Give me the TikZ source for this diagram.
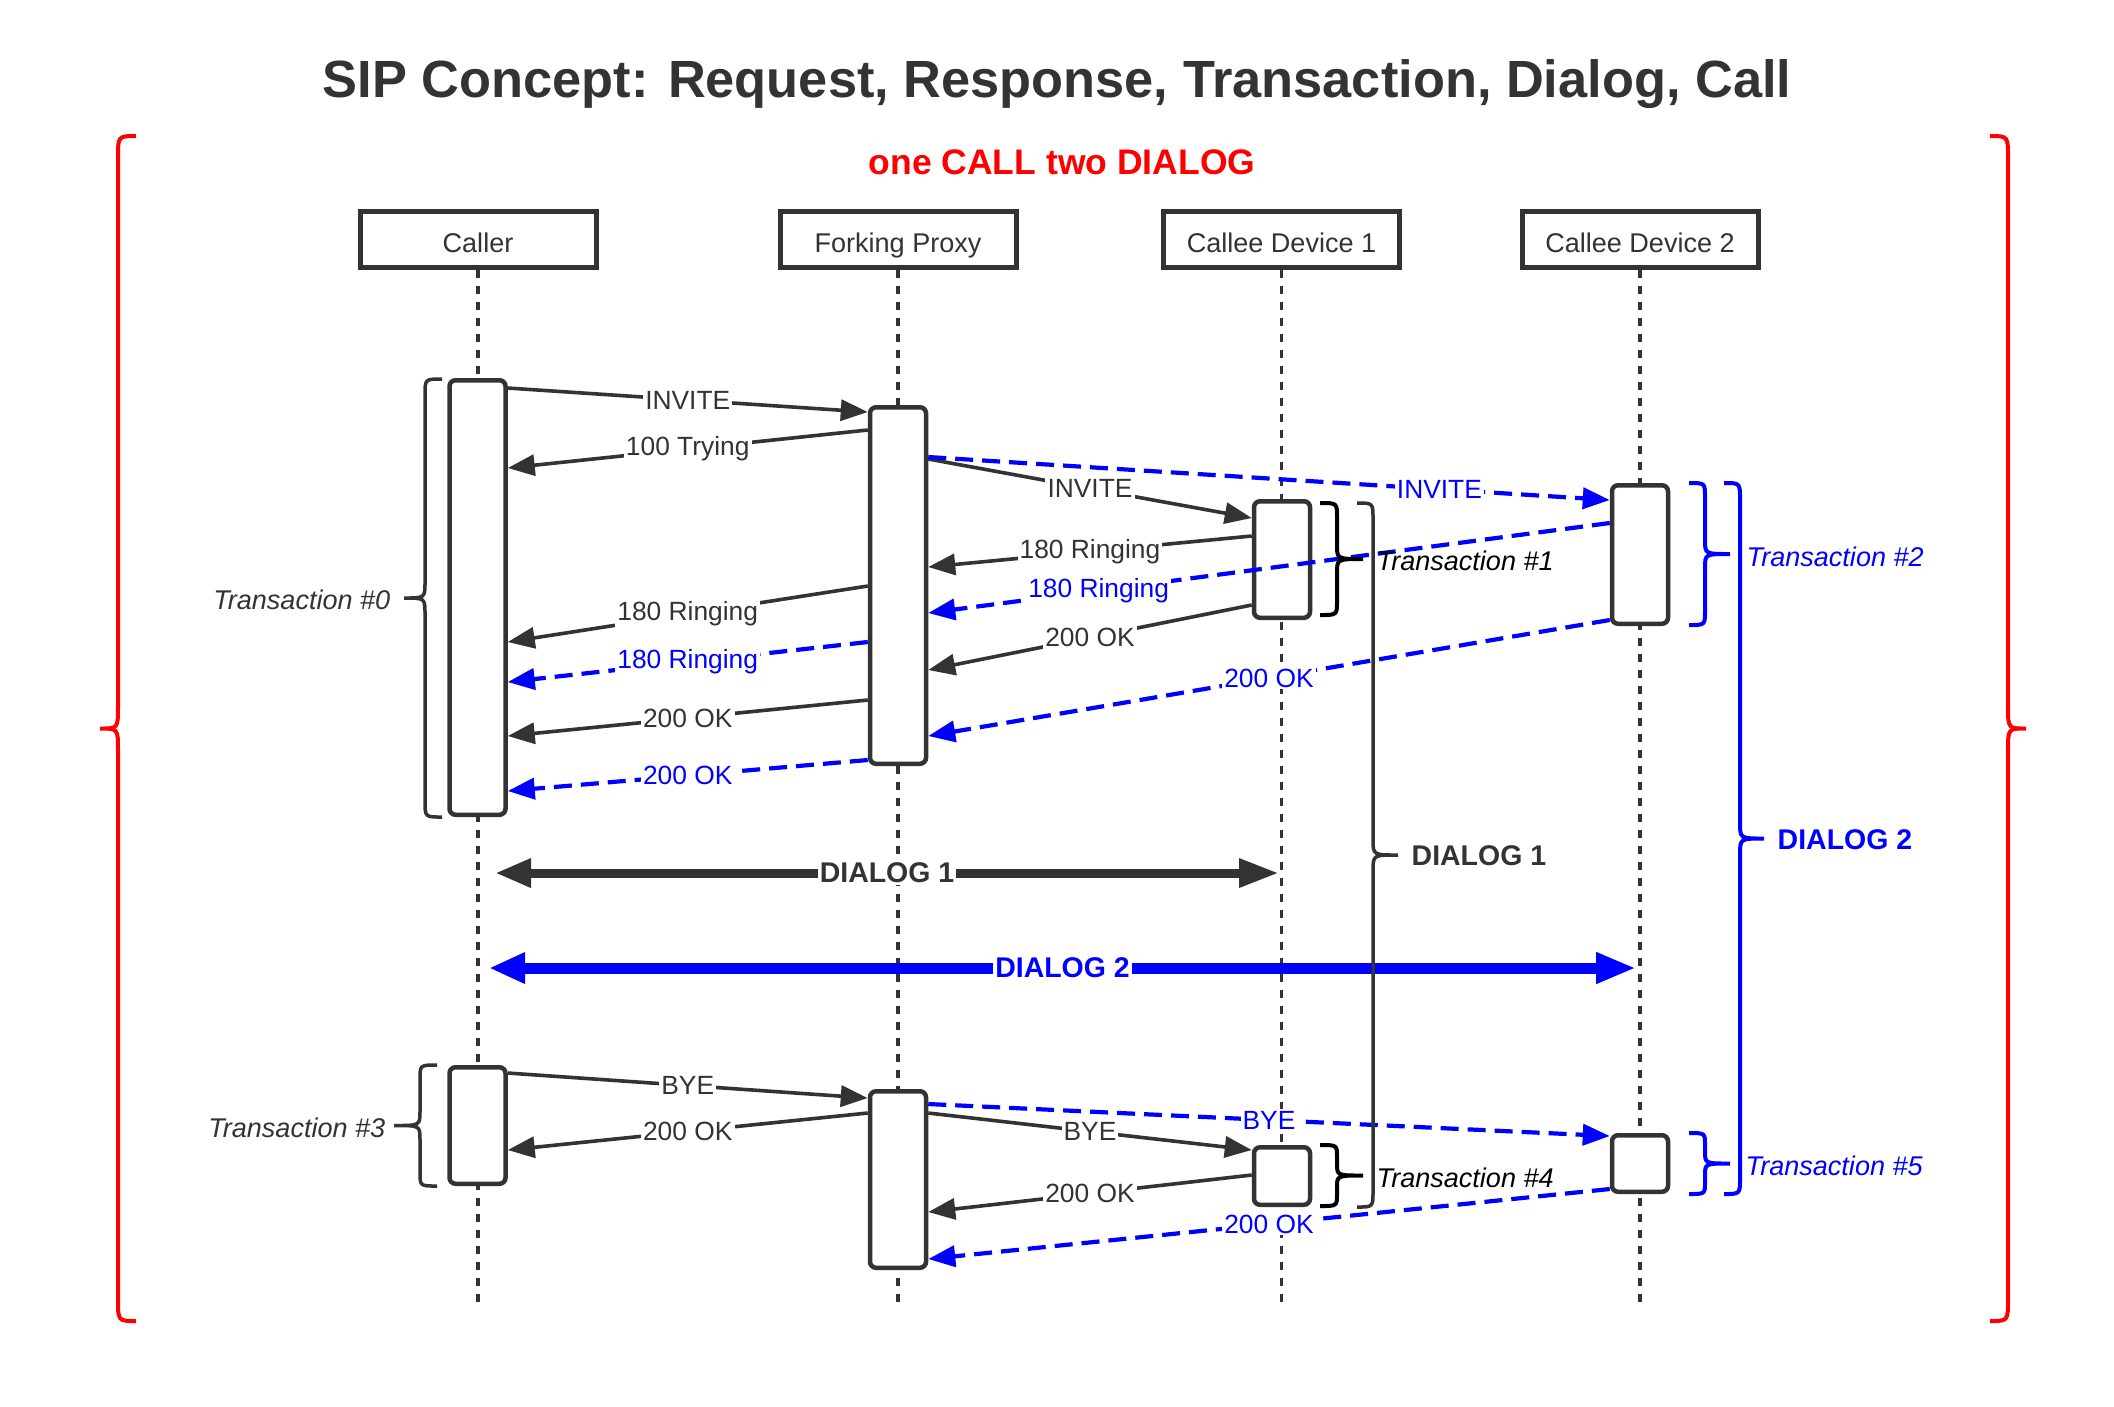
\documentclass[tikz,border=0pt]{standalone}
\usepackage{fontspec}
\setmainfont{Liberation Sans}
\usetikzlibrary{arrows.meta}
\definecolor{ink}{HTML}{333333}
\definecolor{sipblue}{HTML}{0000FF}
\definecolor{sipred}{HTML}{FF0000}
% curly brace: style, x of hooks, top, bottom, line offset, tip offset, radius
\newcommand{\vbrace}[7][]{%
  \draw[#1] (#2,#3) .. controls ({#2+#5},#3) .. ({#2+#5},{#3+#7})
    -- ({#2+#5},{(#3+#4)/2-#7}) .. controls ({#2+#5},{(#3+#4)/2}) .. ({#2+#5+#6},{(#3+#4)/2})
    .. controls ({#2+#5},{(#3+#4)/2}) .. ({#2+#5},{(#3+#4)/2+#7})
    -- ({#2+#5},{#4-#7}) .. controls ({#2+#5},#4) .. (#2,#4);}
\tikzset{
  actor/.style={draw=ink, line width=0.5mm, fill=white, minimum width=23.6mm,
    minimum height=5.6mm, text=ink, text height=2.6mm, text depth=0pt,
    font=\fontsize{7.7}{9}\selectfont},
  lifeline/.style={ink, line width=0.35mm, dash pattern=on 0.8mm off 0.8mm},
  act/.style={draw=ink, line width=0.45mm, fill=white, rounded corners=0.6mm,
    minimum width=5.6mm, inner sep=0pt},
  msg/.style={ink, line width=0.36mm, -{Triangle[length=2.7mm,width=2.1mm]}},
  fork/.style={sipblue, line width=0.42mm, dash pattern=on 1.8mm off 0.9mm,
    -{Triangle[length=2.7mm,width=2.1mm]}},
  lbl/.style={fill=white, inner sep=0.6pt, text=ink, font=\fontsize{7.5}{9}\selectfont},
  blbl/.style={lbl, text=sipblue},
  brc/.style={ink, line width=0.35mm},
  tlbl/.style={inner sep=0pt, text=ink, font=\fontsize{7.7}{9}\selectfont\itshape},
  dlbl/.style={fill=white, inner sep=0.6pt, text=ink, font=\fontsize{8.1}{10}\selectfont\bfseries},
  dlg1/.style={ink, line width=0.9mm,
    {Triangle[length=3.6mm,width=2.7mm]}-{Triangle[length=4mm,width=2.7mm]}},
  dlg2/.style={sipblue, line width=1.1mm,
    {Triangle[length=3.6mm,width=2.9mm]}-{Triangle[length=4mm,width=2.9mm]}}
}
\begin{document}
\begin{tikzpicture}[x=0.1mm,y=-0.1mm]
  \useasboundingbox (0,0) rectangle (2114,1406);
  \node[text=ink, font=\fontsize{14.9}{17}\selectfont\bfseries] (title) at (1057,84)
    {SIP Concept: Request, Response, Transaction, Dialog, Call};
  \node[text=sipred, font=\fontsize{10.1}{12}\selectfont\bfseries] (call) at (1062,162)
    {one CALL two DIALOG};

  % participants
  \node[actor] (caller) at (478,239.5) {Caller};
  \node[actor] (proxy) at (898,239.5) {Forking Proxy};
  \node[actor] (dev1) at (1281.5,239.5) {Callee Device 1};
  \node[actor] (dev2) at (1640,239.5) {Callee Device 2};
  \coordinate (callerEnd) at (478,1308);
  \coordinate (proxyEnd) at (898,1308);
  \coordinate (dev1End) at (1281.5,1308);
  \coordinate (dev2End) at (1640,1308);
  \draw[lifeline] (caller.south) -- (callerEnd);
  \draw[lifeline] (proxy.south) -- (proxyEnd);
  \draw[lifeline] (dev1.south) -- (dev1End);
  \draw[lifeline] (dev2.south) -- (dev2End);

  % activations
  \node[act, minimum height=43.45mm] (callerA) at (477.5,597.5) {};
  \node[act, minimum height=35.65mm] (proxyA) at (898,585.5) {};
  \node[act, minimum height=11.65mm] (dev1A) at (1282,559.5) {};
  \node[act, minimum height=13.85mm] (dev2A) at (1640,554.5) {};
  \node[act, minimum height=11.65mm] (callerB) at (477.5,1125.5) {};
  \node[act, minimum height=17.65mm] (proxyB) at (898,1179.5) {};
  \node[act, minimum height=5.75mm] (dev1B) at (1282,1176) {};
  \node[act, minimum height=5.65mm] (dev2B) at (1640,1163.5) {};

  % INVITE transaction
  \draw[msg] ([yshift=-1mm]callerA.north east) -- node[lbl] {INVITE} ([yshift=-0.7mm]proxyA.north west);
  \draw[msg] ([yshift=-2.5mm]proxyA.north west) -- node[lbl] {100 Trying} ([yshift=-9mm]callerA.north east);
  \draw[msg] ([yshift=-5.4mm]proxyA.north east) -- node[lbl] {INVITE} ([yshift=-1.9mm]dev1A.north west);
  \draw[fork] ([yshift=-5.2mm]proxyA.north east) -- node[blbl, pos=0.75] {INVITE} ([yshift=-1.7mm]dev2A.north west);
  \draw[msg] ([yshift=-3.7mm]dev1A.north west) -- node[lbl] {180 Ringing} ([yshift=-16.2mm]proxyA.north east);
  \draw[fork] ([yshift=-4mm]dev2A.north west) -- node[blbl, pos=0.75] {180 Ringing} ([yshift=-20.8mm]proxyA.north east);
  \draw[msg] ([yshift=-10.6mm]dev1A.north west) -- node[lbl] {200 OK} ([yshift=-26.5mm]proxyA.north east);
  \draw[fork] ([yshift=-13.7mm]dev2A.north west) -- node[blbl] {200 OK} ([yshift=-33.1mm]proxyA.north east);
  \draw[msg] ([yshift=-18.1mm]proxyA.north west) -- node[lbl] {180 Ringing} ([yshift=-26.4mm]callerA.north east);
  \draw[fork] ([yshift=-23.7mm]proxyA.north west) -- node[blbl] {180 Ringing} ([yshift=-30.4mm]callerA.north east);
  \draw[msg] ([yshift=-29.5mm]proxyA.north west) -- node[lbl] {200 OK} ([yshift=-35.8mm]callerA.north east);
  \draw[fork] ([yshift=-35.5mm]proxyA.north west) -- node[blbl] {200 OK} ([yshift=-41.3mm]callerA.north east);

  % dialogs
  \coordinate (dlg1L) at (495,873);
  \coordinate (dlg1R) at (1279,873);
  \coordinate (dlg2L) at (489,968);
  \coordinate (dlg2R) at (1636,968);
  \draw[dlg1] (dlg1L) -- node[dlbl] {DIALOG 1} (dlg1R);
  \draw[dlg2] (dlg2L) -- node[dlbl, text=sipblue] {DIALOG 2} (dlg2R);

  % BYE transaction
  \draw[msg] ([yshift=-0.8mm]callerB.north east) -- node[lbl] {BYE} ([yshift=-0.9mm]proxyB.north west);
  \draw[msg] ([yshift=-2.4mm]proxyB.north west) -- node[lbl] {200 OK} ([yshift=-8.5mm]callerB.north east);
  \draw[msg] ([yshift=-2.4mm]proxyB.north east) -- node[lbl] {BYE} ([yshift=-0.5mm]dev1B.north west);
  \draw[fork] ([yshift=-1.5mm]proxyB.north east) -- node[blbl] {BYE} ([yshift=-0.3mm]dev2B.north west);
  \draw[msg] ([yshift=-3mm]dev1B.north west) -- node[lbl] {200 OK} ([yshift=-12.3mm]proxyB.north east);
  \draw[fork] ([yshift=-5.6mm]dev2B.north west) -- node[blbl] {200 OK} ([yshift=-17mm]proxyB.north east);

  % braces
  \vbrace[brc]{442}{379}{817}{-17}{-21}{16}
  \vbrace[brc, black, line width=0.4mm]{1320}{503}{615}{17}{26}{14}
  \vbrace[brc]{1357}{503}{1207}{16}{25}{16}
  \vbrace[brc, sipblue, line width=0.4mm]{1689}{483}{625}{16}{25}{14}
  \vbrace[brc, sipblue, line width=0.4mm]{1724}{483}{1194}{16}{24}{16}
  \vbrace[brc]{437}{1065}{1186}{-17}{-26}{14}
  \vbrace[brc, black, line width=0.4mm]{1320}{1145}{1206}{17}{26}{12}
  \vbrace[brc, sipblue, line width=0.4mm]{1689}{1133}{1194}{16}{25}{12}
  \vbrace[sipred, line width=0.4mm]{136}{136}{1321}{-18}{-18}{22}
  \vbrace[sipred, line width=0.4mm]{1990}{136}{1321}{18}{18}{22}

  \node[tlbl, anchor=east] (t0) at (391,600) {Transaction \#0};
  \node[tlbl, anchor=west, text=black] (t1) at (1376,561) {Transaction \#1};
  \node[tlbl, anchor=west, text=sipblue] (t2) at (1746,557) {Transaction \#2};
  \node[tlbl, anchor=east] (t3) at (386,1128) {Transaction \#3};
  \node[tlbl, anchor=west, text=black] (t4) at (1376,1178) {Transaction \#4};
  \node[tlbl, anchor=west, text=sipblue] (t5) at (1745,1166) {Transaction \#5};
  \node[dlbl, fill=none, inner sep=0pt, anchor=west] (d1) at (1411,856) {DIALOG 1};
  \node[dlbl, fill=none, inner sep=0pt, anchor=west, text=sipblue] (d2) at (1777,840) {DIALOG 2};
\end{tikzpicture}
\end{document}
